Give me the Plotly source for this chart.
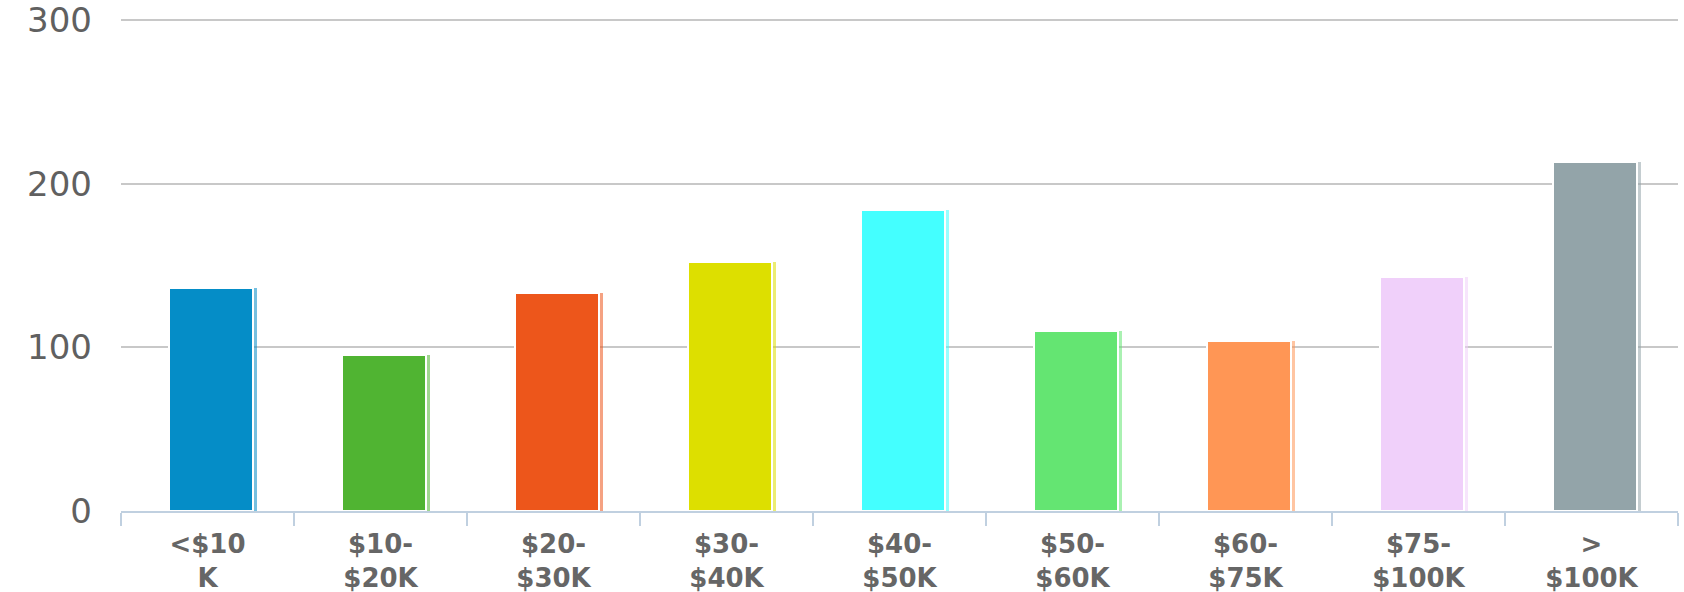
import plotly.graph_objects as go

categories = ["<$10<br>K", "$10-<br>$20K", "$20-<br>$30K", "$30-<br>$40K", "$40-<br>$50K",
              "$50-<br>$60K", "$60-<br>$75K", "$75-<br>$100K", "><br>$100K"]
values = [136, 95, 133, 152, 184, 110, 104, 143, 213]
colors = ["#058DC7", "#50B432", "#ED561B", "#DDDF00", "#44FFFF",
          "#64E572", "#FF9655", "#F0D0FA", "#93A4A9"]
y_ticks = [0, 100, 200, 300]

def rgba(h, a):
    h = h.lstrip("#")
    r, g, b = int(h[0:2], 16), int(h[2:4], 16), int(h[4:6], 16)
    return f"rgba({r},{g},{b},{a})"

cat_px = 173.0
fig = go.Figure()
# shadow stripe
fig.add_trace(go.Bar(
    x=categories, y=values,
    width=85 / cat_px, offset=(172 - 207.5) / cat_px,
    marker=dict(color=[rgba(c, 0.55) for c in colors], line=dict(width=0)),
    hoverinfo="skip", showlegend=False,
))
# main bars
fig.add_trace(go.Bar(
    x=categories, y=values,
    width=84 / cat_px, offset=(169 - 207.5) / cat_px,
    marker=dict(color=colors, line=dict(color="white", width=2)),
    showlegend=False,
))

fig.update_layout(
    width=1684, height=592,
    margin=dict(l=121, r=6, t=16, b=81),
    barmode="overlay",
    plot_bgcolor="white", paper_bgcolor="white",
    font=dict(family="DejaVu Sans", color="#606060"),
    xaxis=dict(
        type="category", automargin=False,
        showline=True, linecolor="#C0D0E0", linewidth=2,
        ticks="outside", tickson="boundaries", ticklen=13, tickcolor="#C0D0E0", tickwidth=2,
        tickfont=dict(family="DejaVu Sans", size=26, color="#666666", weight="bold"),
        ticklabelstandoff=9, ticklabeloverflow="allow",
        showgrid=False, layer="below traces",
        range=[-0.5, 8.5],
    ),
    yaxis=dict(
        range=[0, 302.4], tickvals=y_ticks, automargin=False,
        showgrid=True, gridcolor="#C8C8C8", gridwidth=2,
        zeroline=False, showline=False,
        tickfont=dict(family="DejaVu Sans", size=34, color="#606060"),
        ticklabelstandoff=28, ticklabeloverflow="allow",
    ),
    bargap=0,
)

fig.write_html("out.html")
